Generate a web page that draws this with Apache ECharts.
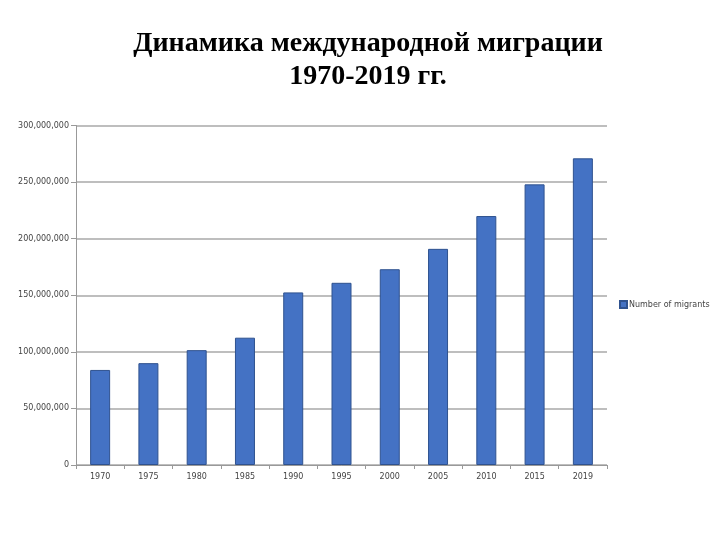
<!DOCTYPE html>
<html>
<head>
<meta charset="utf-8">
<script src="https://cdn.jsdelivr.net/npm/echarts@6/dist/echarts.min.js"></script>
<style>html,body{margin:0;padding:0;background:#fff;}#c{width:720px;height:540px;}</style>
</head>
<body>
<div id="c"></div>
<script>
const categories = ['1970','1975','1980','1985','1990','1995','2000','2005','2010','2015','2019'];
const migrants = [84000000, 90000000, 101500000, 112500000, 152500000, 161000000, 173000000, 191000000, 220000000, 248000000, 271000000];
const seriesName = 'Number of migrants';
const titleText = 'Динамика международной миграции\n1970-2019 гг.';

const chart = echarts.init(document.getElementById('c'), null, {renderer: 'canvas'});
chart.setOption({
  animation: false,
  backgroundColor: '#ffffff',
  title: {
    text: titleText,
    left: 363,
    textAlign: 'center',
    top: 22,
    textStyle: {fontFamily: 'Liberation Serif', fontSize: 28, fontWeight: 'bold', color: '#000', lineHeight: 33}
  },
  legend: {
    data: [seriesName],
    left: 614,
    top: 295,
    orient: 'vertical',
    itemWidth: 7,
    itemHeight: 7,
    itemGap: 4,
    icon: 'rect',
    textStyle: {fontFamily: 'DejaVu Sans', fontSize: 8, color: '#444', padding: [0, 0, 0, -3]}
  },
  grid: {left: 76, right: 113, top: 125.5, bottom: 75, containLabel: false},
  xAxis: {
    type: 'category',
    data: categories,
    boundaryGap: true,
    axisLine: {lineStyle: {color: '#999', width: 1}},
    axisTick: {show: true, alignWithLabel: false, length: 4, lineStyle: {color: '#999'}},
    axisLabel: {fontFamily: 'DejaVu Sans', fontSize: 8, color: '#444', margin: 8}
  },
  yAxis: {
    type: 'value',
    min: 0,
    max: 300000000,
    interval: 50000000,
    axisLine: {show: true, lineStyle: {color: '#999', width: 1}},
    axisTick: {show: true, length: 5, lineStyle: {color: '#999'}},
    axisLabel: {
      fontFamily: 'DejaVu Sans', fontSize: 8, color: '#444', margin: 7,
      formatter: v => v.toLocaleString('en-US')
    },
    splitLine: {show: true, lineStyle: {color: '#a8a8a8', width: 1.5}}
  },
  series: [{
    name: seriesName,
    type: 'bar',
    data: migrants,
    barWidth: 20,
    itemStyle: {color: '#4472C4', borderColor: '#2f528f', borderWidth: 1}
  }]
});
</script>
</body>
</html>
